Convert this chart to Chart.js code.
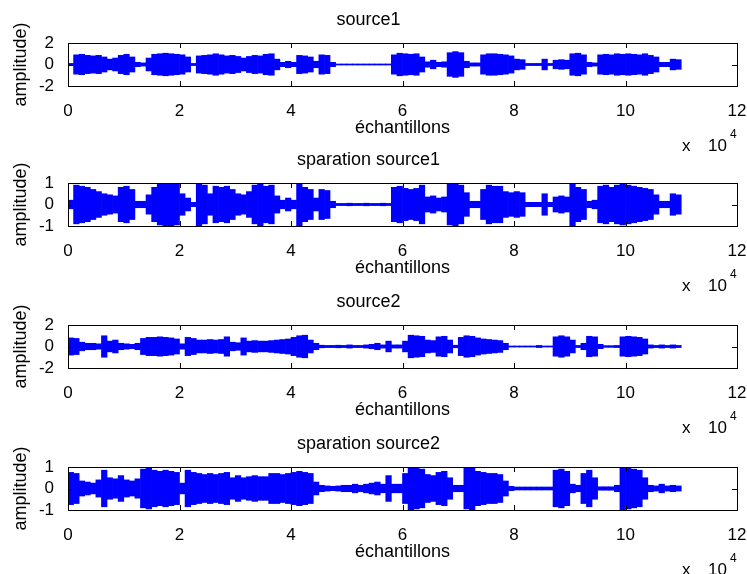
<!DOCTYPE html>
<html>
<head>
<meta charset="utf-8">
<script src="https://cdn.jsdelivr.net/npm/chart.js@4.4.1/dist/chart.umd.min.js"></script>
<style>
  html, body { margin: 0; padding: 0; background: #fff; overflow: hidden; }
  #wrap { position: relative; width: 747px; height: 574px; }
  canvas { position: absolute; left: 0; }
</style>
</head>
<body>
<div id="wrap">
  <canvas id="c0" width="747" height="160" style="top:0px"></canvas>
  <canvas id="c1" width="747" height="160" style="top:140px"></canvas>
  <canvas id="c2" width="747" height="160" style="top:282px"></canvas>
  <canvas id="c3" width="747" height="160" style="top:424px"></canvas>
</div>
<script>
// subplot titles and y limits
const titles = ['source1', 'sparation source1', 'source2', 'sparation source2'];
const yLimits = [2, 1, 2, 1];
const xTicks = [0, 20000, 40000, 60000, 80000, 100000, 120000];
const binSize = 1000; // one envelope value per 1000 samples

// envelope (peak amplitude) of each signal
const source1 = [
  0.1, 0.9, 0.95, 0.85, 0.8, 0.85, 0.7, 0.5, 0.6, 0.85,
  0.95, 0.7, 0.2, 0.15, 0.6, 0.95, 1.0, 1.05, 1.0, 0.95,
  0.9, 0.7, 0.1, 0.8, 0.85, 0.9, 1.0, 0.9, 0.8, 0.85,
  0.75, 0.6, 0.75, 0.85, 0.8, 0.95, 1.0, 0.5, 0.2, 0.3,
  0.2, 0.85, 0.8, 0.7, 0.3, 0.9, 0.85, 0.2, 0.05, 0.05,
  0.05, 0.05, 0.05, 0.05, 0.05, 0.05, 0.05, 0.05, 0.9, 1.05,
  1.0, 0.95, 1.0, 0.7, 0.25, 0.4, 0.2, 0.25, 1.1, 1.2,
  1.1, 0.3, 0.15, 0.15, 0.9, 1.0, 1.0, 0.95, 0.9, 0.8,
  0.5, 0.45, 0.1, 0.1, 0.1, 0.5, 0.1, 0.4, 0.45, 0.4,
  1.0, 1.05, 0.9, 0.2, 0.15, 0.9, 0.95, 0.9, 1.0, 0.95,
  1.0, 0.95, 0.9, 1.0, 0.85, 0.7, 0.2, 0.2, 0.5, 0.45
];
const sepSource1 = [
  0.2, 0.9, 0.85, 0.8, 0.7, 0.6, 0.5, 0.45, 0.4, 0.8,
  0.85, 0.7, 0.15, 0.15, 0.45, 0.8, 0.95, 1.0, 1.0, 0.95,
  0.5, 0.3, 0.1, 1.0, 0.9, 0.5, 0.85, 0.8, 0.85, 0.7,
  0.5, 0.45, 0.6, 0.9, 1.0, 0.85, 0.9, 0.4, 0.2, 0.3,
  0.2, 1.0, 0.8, 0.7, 0.3, 0.7, 0.65, 0.15, 0.05, 0.05,
  0.06, 0.05, 0.05, 0.06, 0.05, 0.05, 0.06, 0.05, 0.8, 0.85,
  0.75, 0.7, 0.75, 0.9, 0.35, 0.4, 0.3, 0.35, 0.95, 1.0,
  0.9, 0.55, 0.15, 0.15, 0.7, 0.9, 0.85, 0.85, 0.6, 0.55,
  0.6, 0.55, 0.1, 0.1, 0.1, 0.5, 0.1, 0.35, 0.4, 0.35,
  1.0, 0.8, 0.7, 0.15, 0.2, 0.85, 0.9, 0.8, 0.9, 0.95,
  0.9, 0.85, 0.8, 0.75, 0.7, 0.45, 0.15, 0.15, 0.5, 0.45
];
const source2 = [
  0.8, 0.75, 0.4, 0.3, 0.3, 0.25, 1.0, 0.5, 0.6, 0.3,
  0.25, 0.2, 0.3, 0.75, 0.85, 0.85, 0.9, 0.85, 0.8, 0.7,
  0.25, 0.85, 0.75, 0.6, 0.6, 0.65, 0.6, 0.65, 0.9, 0.4,
  0.35, 0.8, 0.5, 0.55, 0.5, 0.5, 0.55, 0.6, 0.65, 0.7,
  0.85, 1.0, 1.05, 0.6, 0.3, 0.12, 0.1, 0.1, 0.12, 0.1,
  0.15, 0.1, 0.1, 0.15, 0.2, 0.3, 0.15, 0.5, 0.15, 0.15,
  0.5, 1.05, 1.0, 0.95, 0.6, 0.55, 0.9, 0.95, 0.6, 0.12,
  0.85, 1.0, 0.95, 0.8, 0.7, 0.65, 0.6, 0.55, 0.3, 0.05,
  0.05, 0.05, 0.05, 0.05, 0.1, 0.05, 0.05, 0.9, 1.0, 0.9,
  0.6, 0.1, 0.3, 0.95, 0.9, 0.2, 0.08, 0.08, 0.1, 0.9,
  0.95, 0.9, 0.85, 0.7, 0.15, 0.1, 0.15, 0.1, 0.15, 0.1
];
const sepSource2 = [
  0.75, 0.7, 0.35, 0.3, 0.25, 0.4, 0.85, 0.5, 0.45, 0.6,
  0.4, 0.35, 0.45, 0.9, 0.95, 0.85, 0.8, 0.85, 0.8, 0.75,
  0.25, 0.85, 0.75, 0.7, 0.65, 0.7, 0.65, 0.7, 0.75, 0.5,
  0.6, 0.5, 0.55, 0.6, 0.55, 0.55, 0.7, 0.7, 0.65, 0.7,
  0.75, 0.8, 0.75, 0.7, 0.3, 0.15, 0.12, 0.1, 0.12, 0.15,
  0.15, 0.2, 0.15, 0.2, 0.25, 0.3, 0.2, 0.6, 0.2, 0.2,
  0.7, 1.0, 0.95, 0.9, 0.65, 0.6, 0.75, 0.8, 0.5, 0.15,
  0.15, 0.95, 1.0, 0.8, 0.75, 0.7, 0.7, 0.65, 0.35, 0.1,
  0.07, 0.07, 0.07, 0.07, 0.07, 0.07, 0.07, 0.85, 0.9, 0.8,
  0.2, 0.15, 0.7, 0.85, 0.5, 0.08, 0.08, 0.08, 0.15, 1.0,
  0.95, 0.9, 0.85, 0.5, 0.15, 0.12, 0.2, 0.12, 0.15, 0.12
];
const signals = [source1, sepSource1, source2, sepSource2];

Chart.defaults.font.family = 'Arial, "Liberation Sans", sans-serif';
Chart.defaults.color = '#000';

// MATLAB style box, inward tick marks and the x 10^4 exponent
const matlabAxes = {
  id: 'matlabAxes',
  afterDatasetsDraw(chart) {
    const { ctx, chartArea: a, scales: { x, y } } = chart;
    const L = 5;
    ctx.save();
    ctx.strokeStyle = '#000';
    ctx.lineWidth = 1;
    ctx.beginPath();
    x.ticks.forEach(t => {
      const px = Math.round(x.getPixelForValue(t.value)) + 0.5;
      ctx.moveTo(px, a.bottom); ctx.lineTo(px, a.bottom - L);
      ctx.moveTo(px, a.top); ctx.lineTo(px, a.top + L);
    });
    y.ticks.forEach(t => {
      const py = Math.round(y.getPixelForValue(t.value)) + 0.5;
      ctx.moveTo(a.left, py); ctx.lineTo(a.left + L, py);
      ctx.moveTo(a.right, py); ctx.lineTo(a.right - L, py);
    });
    ctx.stroke();
    ctx.strokeRect(Math.round(a.left) + 0.5, Math.round(a.top) + 0.5,
                   Math.round(a.width), Math.round(a.height));
    ctx.fillStyle = '#000';
    ctx.textAlign = 'left';
    ctx.textBaseline = 'alphabetic';
    ctx.font = '17px Arial, "Liberation Sans", sans-serif';
    ctx.fillText('x', a.right - 55, a.bottom + 65);
    ctx.fillText('10', a.right - 29, a.bottom + 65);
    ctx.font = '12px Arial, "Liberation Sans", sans-serif';
    ctx.fillText('4', a.right - 7, a.bottom + 52);
    ctx.restore();
  }
};

signals.forEach((amp, k) => {
  const lim = yLimits[k];
  new Chart(document.getElementById('c' + k), {
    type: 'bar',
    data: {
      datasets: [{
        data: amp.map((v, i) => ({ x: i * binSize + binSize / 2, y: [-v, v] })),
        backgroundColor: '#0000ff',
        borderWidth: 0,
        barPercentage: 1,
        categoryPercentage: 1,
        grouped: false
      }]
    },
    options: {
      responsive: false,
      animation: false,
      layout: { padding: { left: 0, right: 10, top: 0, bottom: 0 } },
      plugins: {
        legend: { display: false },
        tooltip: { enabled: false },
        title: {
          display: true,
          text: titles[k],
          color: '#000',
          font: { size: 18, weight: 'normal' },
          padding: { top: 9, bottom: 12.4 }
        }
      },
      scales: {
        x: {
          type: 'linear',
          min: 0,
          max: 120000,
          offset: false,
          grid: { display: false, offset: false },
          border: { display: false },
          afterBuildTicks: s => { s.ticks = xTicks.map(v => ({ value: v })); },
          ticks: {
            autoSkip: false,
            maxRotation: 0,
            padding: 7,
            font: { size: 17 },
            callback: v => String(v / 10000)
          },
          title: {
            display: true,
            text: 'échantillons',
            font: { size: 18 },
            padding: { top: 0, bottom: 21.2 }
          },
          afterFit: s => { s.height = 74; s.paddingLeft = 0; s.paddingRight = 0; }
        },
        y: {
          min: -lim,
          max: lim,
          grid: { display: false },
          border: { display: false },
          afterBuildTicks: s => { s.ticks = [-lim, 0, lim].map(v => ({ value: v })); },
          ticks: { autoSkip: false, padding: 6, font: { size: 17 } },
          title: {
            display: true,
            text: 'amplitude)',
            font: { size: 18 },
            padding: { top: 10, bottom: 0 }
          },
          afterFit: s => { s.width = 68; }
        }
      }
    },
    plugins: [matlabAxes]
  });
});
</script>
</body>
</html>
